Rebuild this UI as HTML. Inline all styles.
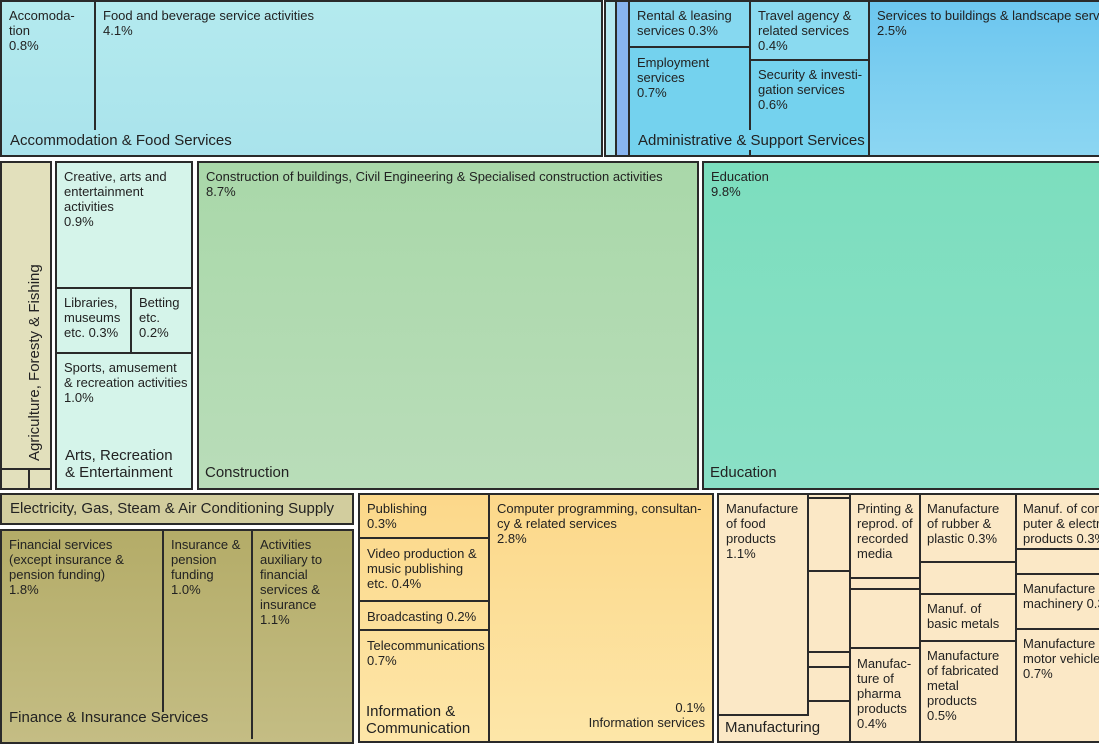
<!DOCTYPE html>
<html><head><meta charset="utf-8"><style>
body{margin:0;width:1099px;height:732px;overflow:hidden;background:#fff;font-family:"Liberation Sans",sans-serif;color:#222;position:relative}
.b{position:absolute;border:2px solid #2a2a2a;box-sizing:border-box;font-size:13px;line-height:15px;padding:6px 7px;overflow:hidden;white-space:nowrap}
.n{position:absolute;box-sizing:border-box;font-size:13px;line-height:15px;padding:6px 7px;white-space:nowrap}
.g{position:absolute;font-size:15px;line-height:17px;white-space:nowrap}
.l{position:absolute;background:#2a2a2a}
</style></head><body>
<!-- top row -->
<div class="b" style="left:0;top:0;width:603px;height:157px;background:linear-gradient(#b4eaee,#a9e3ec)"></div>
<div class="l" style="left:94px;top:0;width:2px;height:130px"></div>
<div class="n" style="left:2px;top:2px">Accomoda-<br>tion<br>0.8%</div>
<div class="n" style="left:96px;top:2px">Food and beverage service activities<br>4.1%</div>
<div class="g" style="left:10px;top:132px">Accommodation &amp; Food Services</div>
<div class="b" style="left:604px;top:0;width:9px;height:157px;background:#b6e8f0"></div>
<div class="b" style="left:615px;top:0;width:10px;height:157px;background:#88b4f0"></div>
<div class="b" style="left:628px;top:0;width:242px;height:157px;background:#74d2ee"></div>
<div class="l" style="left:628px;top:46px;width:123px;height:2px"></div>
<div class="l" style="left:749px;top:0;width:2px;height:130px"></div>
<div class="l" style="left:749px;top:150px;width:2px;height:7px"></div>
<div class="l" style="left:749px;top:59px;width:120px;height:2px"></div>
<div style="position:absolute;left:630px;top:2px;width:119px;height:44px;background:#86d8f0"></div>
<div style="position:absolute;left:751px;top:2px;width:117px;height:57px;background:#8adaf0"></div>
<div class="n" style="left:630px;top:2px">Rental &amp; leasing<br>services 0.3%</div>
<div class="n" style="left:630px;top:49px">Employment<br>services<br>0.7%</div>
<div class="n" style="left:751px;top:2px">Travel agency &amp;<br>related services<br>0.4%</div>
<div class="n" style="left:751px;top:61px">Security &amp; investi-<br>gation services<br>0.6%</div>
<div class="g" style="left:638px;top:132px">Administrative &amp; Support Services</div>
<div class="b" style="left:868px;top:0;width:240px;height:157px;background:linear-gradient(#6cc6ef,#8cd6f2)">Services to buildings &amp; landscape services<br>2.5%</div>
<!-- middle row -->
<div class="b" style="left:0;top:161px;width:52px;height:329px;background:#e2e0bc"></div>
<div class="l" style="left:0;top:468px;width:52px;height:2px"></div>
<div class="l" style="left:28px;top:468px;width:2px;height:22px"></div>
<div style="position:absolute;left:26px;top:461px;transform:rotate(-90deg);transform-origin:0 0;font-size:15px;white-space:nowrap;line-height:17px">Agriculture, Foresty &amp; Fishing</div>
<div class="b" style="left:55px;top:161px;width:138px;height:329px;background:#d5f4ea"></div>
<div class="l" style="left:55px;top:287px;width:138px;height:2px"></div>
<div class="l" style="left:55px;top:352px;width:138px;height:2px"></div>
<div class="l" style="left:130px;top:287px;width:2px;height:66px"></div>
<div class="n" style="left:57px;top:163px">Creative, arts and<br>entertainment<br>activities<br>0.9%</div>
<div class="n" style="left:57px;top:289px">Libraries,<br>museums<br>etc. 0.3%</div>
<div class="n" style="left:132px;top:289px">Betting<br>etc.<br>0.2%</div>
<div class="n" style="left:57px;top:354px">Sports, amusement<br>&amp; recreation activities<br>1.0%</div>
<div class="g" style="left:65px;top:447px">Arts, Recreation<br>&amp; Entertainment</div>
<div class="b" style="left:197px;top:161px;width:502px;height:329px;background:linear-gradient(#a9d8a9,#b9ddb9)">Construction of buildings, Civil Engineering &amp; Specialised construction activities<br>8.7%</div>
<div class="g" style="left:205px;top:464px">Construction</div>
<div class="b" style="left:702px;top:161px;width:410px;height:329px;background:linear-gradient(#7cdebe,#8ae0c6)">Education<br>9.8%</div>
<div class="g" style="left:710px;top:464px">Education</div>
<!-- bottom row -->
<div class="b" style="left:0;top:493px;width:354px;height:32px;background:#d2cd9e;font-size:15px;padding:6px 8px">Electricity, Gas, Steam &amp; Air Conditioning Supply</div>
<div class="b" style="left:0;top:529px;width:354px;height:215px;background:linear-gradient(#b4ac68,#c4bd84)"></div>
<div class="l" style="left:162px;top:529px;width:2px;height:183px"></div>
<div class="l" style="left:251px;top:529px;width:2px;height:210px"></div>
<div class="n" style="left:2px;top:531px">Financial services<br>(except insurance &amp;<br>pension funding)<br>1.8%</div>
<div class="n" style="left:164px;top:531px">Insurance &amp;<br>pension<br>funding<br>1.0%</div>
<div class="n" style="left:253px;top:531px">Activities<br>auxiliary to<br>financial<br>services &amp;<br>insurance<br>1.1%</div>
<div class="g" style="left:9px;top:709px">Finance &amp; Insurance Services</div>
<div class="b" style="left:358px;top:493px;width:356px;height:250px;background:linear-gradient(#fcd88a,#fde6a8)"></div>
<div class="l" style="left:488px;top:493px;width:2px;height:250px"></div>
<div class="l" style="left:358px;top:537px;width:131px;height:2px"></div>
<div class="l" style="left:358px;top:600px;width:131px;height:2px"></div>
<div class="l" style="left:358px;top:629px;width:131px;height:2px"></div>
<div class="n" style="left:360px;top:495px">Publishing<br>0.3%</div>
<div class="n" style="left:360px;top:540px">Video production &amp;<br>music publishing<br>etc. 0.4%</div>
<div class="n" style="left:360px;top:603px">Broadcasting 0.2%</div>
<div class="n" style="left:360px;top:632px">Telecommunications<br>0.7%</div>
<div class="g" style="left:366px;top:703px">Information &amp;<br>Communication</div>
<div class="n" style="left:490px;top:495px">Computer programming, consultan-<br>cy &amp; related services<br>2.8%</div>
<div class="n" style="left:560px;top:694px;width:152px;text-align:right">0.1%<br>Information services</div>
<div class="b" style="left:717px;top:493px;width:400px;height:250px;background:#fbe8c6"></div>
<div class="l" style="left:807px;top:493px;width:2px;height:223px"></div>
<div class="l" style="left:717px;top:714px;width:92px;height:2px"></div>
<div class="l" style="left:849px;top:493px;width:2px;height:250px"></div>
<div class="l" style="left:919px;top:493px;width:2px;height:250px"></div>
<div class="l" style="left:1015px;top:493px;width:2px;height:250px"></div>
<div class="l" style="left:807px;top:497px;width:43px;height:2px"></div>
<div class="l" style="left:807px;top:570px;width:43px;height:2px"></div>
<div class="l" style="left:807px;top:651px;width:43px;height:2px"></div>
<div class="l" style="left:807px;top:666px;width:43px;height:2px"></div>
<div class="l" style="left:807px;top:700px;width:43px;height:2px"></div>
<div class="l" style="left:849px;top:577px;width:71px;height:2px"></div>
<div class="l" style="left:849px;top:588px;width:71px;height:2px"></div>
<div class="l" style="left:849px;top:647px;width:71px;height:2px"></div>
<div class="l" style="left:919px;top:561px;width:97px;height:2px"></div>
<div class="l" style="left:919px;top:593px;width:97px;height:2px"></div>
<div class="l" style="left:919px;top:640px;width:97px;height:2px"></div>
<div class="l" style="left:1015px;top:548px;width:84px;height:2px"></div>
<div class="l" style="left:1015px;top:573px;width:84px;height:2px"></div>
<div class="l" style="left:1015px;top:628px;width:84px;height:2px"></div>
<div class="n" style="left:719px;top:495px">Manufacture<br>of food<br>products<br>1.1%</div>
<div class="g" style="left:725px;top:719px">Manufacturing</div>
<div class="n" style="left:850px;top:495px">Printing &amp;<br>reprod. of<br>recorded<br>media</div>
<div class="n" style="left:850px;top:650px">Manufac-<br>ture of<br>pharma<br>products<br>0.4%</div>
<div class="n" style="left:920px;top:495px">Manufacture<br>of rubber &amp;<br>plastic 0.3%</div>
<div class="n" style="left:920px;top:595px">Manuf. of<br>basic metals</div>
<div class="n" style="left:920px;top:642px">Manufacture<br>of fabricated<br>metal<br>products<br>0.5%</div>
<div class="n" style="left:1016px;top:495px">Manuf. of com-<br>puter &amp; electronic<br>products 0.3%</div>
<div class="n" style="left:1016px;top:575px">Manufacture of<br>machinery 0.3%</div>
<div class="n" style="left:1016px;top:630px">Manufacture of<br>motor vehicles<br>0.7%</div>
</body></html>
